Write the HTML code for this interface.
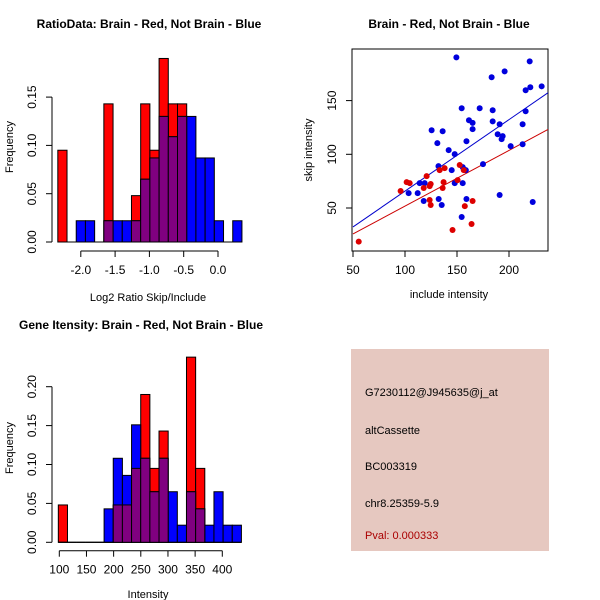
<!DOCTYPE html>
<html><head><meta charset="utf-8"><style>
body{margin:0;background:#fff}
svg{display:block;font-family:"Liberation Sans",sans-serif}
.t{font-weight:bold;font-size:12px}
.a{font-size:11px}
</style></head><body>
<svg id="c" width="600" height="600" xmlns="http://www.w3.org/2000/svg">
<rect width="600" height="600" fill="#fff"/>
<text class="t" x="149" y="28" text-anchor="middle">RatioData: Brain - Red, Not Brain - Blue</text>
<text class="t" x="449" y="28" text-anchor="middle">Brain - Red, Not Brain - Blue</text>
<text class="t" x="141" y="329" text-anchor="middle">Gene Itensity: Brain - Red, Not Brain - Blue</text>
<text class="a" x="148" y="301" text-anchor="middle">Log2 Ratio Skip/Include</text>
<text class="a" x="449" y="298" text-anchor="middle">include intensity</text>
<text class="a" x="148" y="598" text-anchor="middle">Intensity</text>
<text class="a" transform="translate(13,147) rotate(-90)" text-anchor="middle">Frequency</text>
<text class="a" transform="translate(312,150) rotate(-90)" text-anchor="middle">skip intensity</text>
<text class="a" transform="translate(13,448) rotate(-90)" text-anchor="middle">Frequency</text>
<g>
<rect x="351" y="349" width="198" height="202" fill="#E6C8C0"/>
<text class="a" x="365" y="396">G7230112@J945635@j_at</text>
<text class="a" x="365" y="434">altCassette</text>
<text class="a" x="365" y="470">BC003319</text>
<text class="a" x="365" y="507">chr8.25359-5.9</text>
<text class="a" x="365" y="539" fill="#AA0000">Pval: 0.000333</text>
</g>
<g id="h1"></g><g id="sc"></g><g id="h2"></g>
</svg>
<script>
// Histogram 1 data
const ratioStart = -2.335, ratioBinW = 0.1342;
const ratioRed  = [0.095,0,0,0,0,0.143,0,0,0.048,0.143,0.095,0.19,0.143,0.143,0,0,0,0,0,0];
const ratioBlue = [0,0,0.022,0.022,0,0.022,0.022,0.022,0.022,0.065,0.087,0.13,0.109,0.13,0.13,0.087,0.087,0.022,0,0.022];
const ratioXTicks = [-2.0,-1.5,-1.0,-0.5,0.0];
const ratioXLabels = ["-2.0","-1.5","-1.0","-0.5","0.0"];
const ratioYTicks = [0,0.05,0.10,0.15];
const ratioYLabels = ["0.00","0.05","0.10","0.15"];
// Histogram 2 data
const intStart = 98.2, intBinW = 16.85;
const intRed  = [0.048,0,0,0,0,0,0.048,0.048,0.095,0.19,0.095,0.143,0,0,0.238,0.095,0,0,0,0];
const intBlue = [0,0,0,0,0,0.043,0.108,0.086,0.151,0.108,0.065,0.108,0.065,0.022,0.065,0.043,0.022,0.065,0.022,0.022];
const intXTicks = [100,150,200,250,300,350,400];
const intXLabels = ["100","150","200","250","300","350","400"];
const intYTicks = [0,0.05,0.10,0.15,0.20];
const intYLabels = ["0.00","0.05","0.10","0.15","0.20"];
// Scatter data
const blueX = [149.4,183.3,195.8,219.9,231.4,220.5,216,216,184.3,171.8,154.5,161.5,165,165,184.3,191,213.1,189.1,192.9,193.9,201.6,213.1,125.6,136.2,131.1,159.1,142,147.8,175,132.2,144.9,155.5,156.5,158.5,114.1,118.9,147.8,155.5,103.5,112.2,118,132.4,135.3,159.1,191,222.8,154.5];
const blueY = [190.2,171.7,177.2,186.5,163.3,162.4,159.6,140.1,141,142.9,142.9,131.7,129.3,123.4,130.7,128,128,118.7,114.1,116.9,107.6,109.4,122.4,121.5,110.4,112.2,103.9,100.2,90.9,89,85.3,88.1,86.2,85.3,73.2,73.2,73.2,73.2,63.9,63.9,56.5,58.4,52.8,58.4,62.1,55.6,41.6];
const redX = [55.5,95.8,101.6,104.5,120.8,118,124.7,123.7,123.7,124.7,133.3,138.1,137.1,136.2,152.6,150.6,156.5,157.5,165,164,145.7];
const redY = [18.7,65.8,74.1,73.2,79.7,68.6,72.3,70.4,57.4,52.8,85.3,87.1,74.1,68.6,90,76,85.3,51.8,56.5,35.1,29.5];
const fitIntercept = [-0.9,-0.15]; // blue, red
const fitSlope = [0.666,0.519];
const scXTicks = [50,100,150,200];
const scXLabels = ["50","100","150","200"];
const scYTicks = [50,100,150];
const scYLabels = ["50","100","150"];

const NS="http://www.w3.org/2000/svg";
function mk(p,tag,at){const e=document.createElementNS(NS,tag);for(const k in at)e.setAttribute(k,at[k]);p.appendChild(e);return e;}

function hist(g,start,bw,red,blue,xt,xl,yt,yl,px0,pxPer,xData0,py0,pyPer,axisY,name){
  const X=v=>px0+(v-xData0)*pxPer, Y=v=>py0-v*pyPer;
  const draw=(arr,col,nm)=>arr.forEach((v,i)=>{
    const x0=X(start+i*bw),x1=X(start+(i+1)*bw);
    if(v<=0){const l=mk(g,'line',{x1:x0,x2:x1,y1:Y(0),y2:Y(0),stroke:'#000'});
      
      return;}
    const r=mk(g,'rect',{x:x0,y:Y(v),width:x1-x0,height:Y(0)-Y(v),fill:col,stroke:'#000','stroke-width':1});
    
    
  });
  draw(red,'#FF0000','red');draw(blue,'#0000FF','blue');
  draw(red.map((v,i)=>Math.min(v,blue[i])),'#800080','overlap');
  const xa=mk(g,'line',{x1:X(xt[0]),x2:X(xt[xt.length-1]),y1:axisY,y2:axisY,stroke:'#000'});
  
  
  xt.forEach((t,i)=>{mk(g,'line',{x1:X(t),x2:X(t),y1:axisY,y2:axisY+6,stroke:'#000'});
    const tx=mk(g,'text',{x:X(t),y:axisY+23,'text-anchor':'middle','font-size':'12'});tx.textContent=xl[i];
    
    });
  const ax=52;
  const ya=mk(g,'line',{x1:ax,x2:ax,y1:Y(yt[0]),y2:Y(yt[yt.length-1]),stroke:'#000'});
  
  
  yt.forEach((t,i)=>{mk(g,'line',{x1:ax-6,x2:ax,y1:Y(t),y2:Y(t),stroke:'#000'});
    const tx=mk(g,'text',{transform:`translate(${ax-20},${Y(t)}) rotate(-90)`,'text-anchor':'middle','dominant-baseline':'central','font-size':'12'});tx.textContent=yl[i];
    
    });
}
hist(document.getElementById('h1'),ratioStart,ratioBinW,ratioRed,ratioBlue,ratioXTicks,ratioXLabels,ratioYTicks,ratioYLabels,218,68.6,0,242,966,251,'ratio-hist');
hist(document.getElementById('h2'),intStart,intBinW,intRed,intBlue,intXTicks,intXLabels,intYTicks,intYLabels,59.3,0.5433,100,542.3,778,550.7,'intensity-hist');

// scatter
(function(){
  const g=document.getElementById('sc');
  const X=v=>353+(v-50)*1.04, Y=v=>154.3-(v-100)*1.074;
  const box=mk(g,'rect',{x:352,y:49,width:196,height:202,fill:'none',stroke:'#000'});
  
  
  const cp=mk(g,'clipPath',{id:'cl'});mk(cp,'rect',{x:352,y:49,width:196,height:202});
  ['#0000CC','#CC0000'].forEach((c,k)=>{
    const l=mk(g,'line',{x1:X(50),x2:X(240),y1:Y(fitIntercept[k]+fitSlope[k]*50),y2:Y(fitIntercept[k]+fitSlope[k]*240),stroke:c,'clip-path':'url(#cl)'});
    
    
  });
  blueX.forEach((v,i)=>{const c=mk(g,'circle',{cx:X(v),cy:Y(blueY[i]),r:3,fill:'#0000DD'});
    
    });
  redX.forEach((v,i)=>{const c=mk(g,'circle',{cx:X(v),cy:Y(redY[i]),r:3,fill:'#DD0000'});
    
    });
  scXTicks.forEach((t,i)=>{mk(g,'line',{x1:X(t),x2:X(t),y1:251,y2:257,stroke:'#000'});
    const tx=mk(g,'text',{x:X(t),y:274,'text-anchor':'middle','font-size':'12'});tx.textContent=scXLabels[i];
    
    });
  scYTicks.forEach((t,i)=>{mk(g,'line',{x1:346,x2:352,y1:Y(t),y2:Y(t),stroke:'#000'});
    const tx=mk(g,'text',{transform:`translate(332,${Y(t)}) rotate(-90)`,'text-anchor':'middle','dominant-baseline':'central','font-size':'12'});tx.textContent=scYLabels[i];
    
    });
})();
</script>
</body></html>
